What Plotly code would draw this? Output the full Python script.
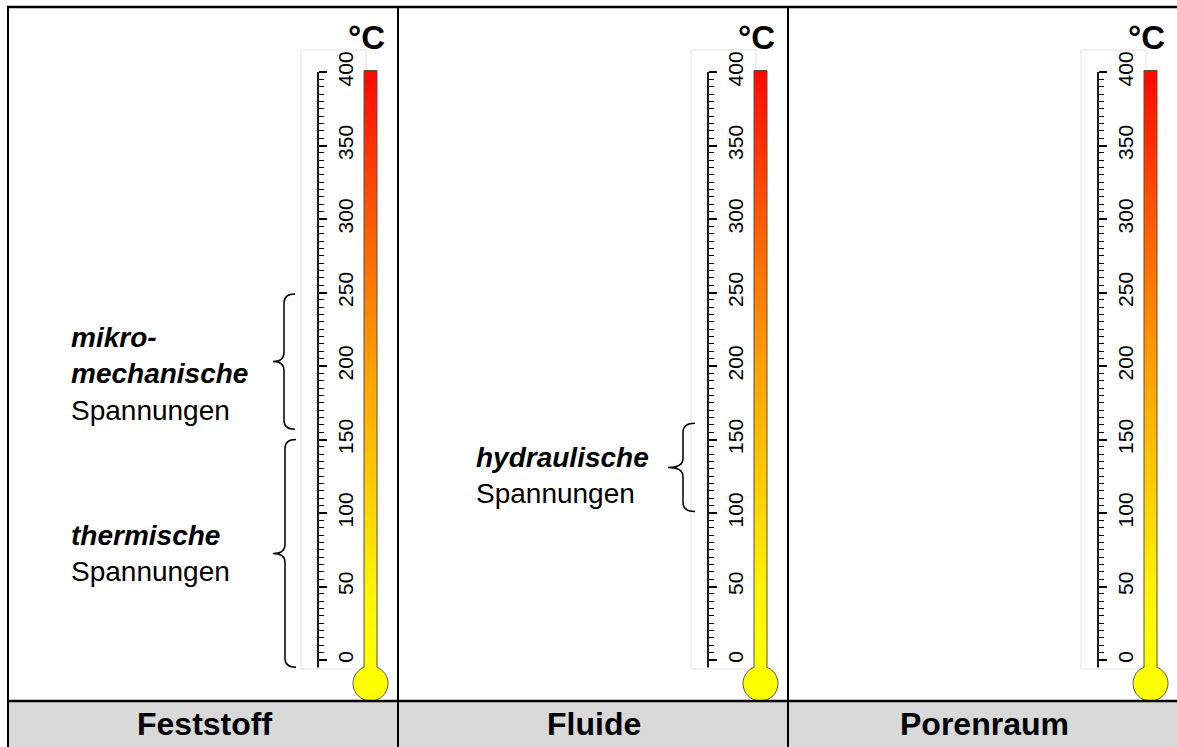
import plotly.graph_objects as go

# ---------------- data ----------------
PANEL_TITLES = ["Feststoff", "Fluide", "Porenraum"]
UNIT = "°C"
SCALE_MIN = 0
SCALE_MAX = 400
MAJOR_TICKS = [0, 50, 100, 150, 200, 250, 300, 350, 400]
TICK_LABELS = ["0", "50", "100", "150", "200", "250", "300", "350", "400"]
MINOR_STEP = 5

# stress ranges (temperature in °C) and their labels
RANGE_PANEL = [0, 0, 1]
RANGE_LOW = [157, -5, 101]
RANGE_HIGH = [249, 150, 161]
RANGE_TITLE = ["mikro-<br>mechanische", "thermische", "hydraulische"]
RANGE_SUB = ["Spannungen", "Spannungen", "Spannungen"]

# ---------------- layout constants (pixels) ----------------
W, H = 1177, 747
PANEL_LEFT = [8, 398, 788]
FRAME_TOP = 7
HEADER_LINE = 701
ZERO_PX = 660           # pixel row of 0 °C
PX_PER_DEG = 1.47
AXIS_OFF = 310          # axis line x offset in panel
TUBE_OFF = (356, 369)   # tube x offsets in panel
BOX_OFF = (293, 358)
BOX_TOP, BOX_BOTTOM = 50, 669
UNIT_OFF = 358
BULB_PX = 683.5
BULB_SIZE = 35
LABEL_X = [69, 69, 474]
LABEL_Y = [374, 553, 475]
BRACE_END = [295, 296, 695]
BRACE_STEM = [284, 285, 683]
BRACE_TIP = [273, 273, 668]
FONT = "Liberation Sans, Arial, sans-serif"

Y_RANGE = [-(H - ZERO_PX) / PX_PER_DEG, ZERO_PX / PX_PER_DEG]


def py(p):
    return 1 - p / H


def deg_of_px(p):
    return (ZERO_PX - p) / PX_PER_DEG


fig = go.Figure()
shapes = []
annotations = []

# table frame
shapes.append(dict(type="rect", xref="paper", yref="paper", x0=PANEL_LEFT[0] / W, x1=1,
                   y0=0, y1=py(HEADER_LINE + 1), fillcolor="#d9d9d9", line=dict(width=0),
                   layer="below"))
shapes.append(dict(type="line", xref="paper", yref="paper", x0=(PANEL_LEFT[0] - 1) / W, x1=1,
                   y0=py(FRAME_TOP), y1=py(FRAME_TOP), line=dict(color="black", width=2.5)))
shapes.append(dict(type="line", xref="paper", yref="paper", x0=(PANEL_LEFT[0] - 1) / W, x1=1,
                   y0=py(HEADER_LINE), y1=py(HEADER_LINE), line=dict(color="black", width=2.5)))
for xl in PANEL_LEFT:
    shapes.append(dict(type="line", xref="paper", yref="paper", x0=xl / W, x1=xl / W,
                       y0=0, y1=py(FRAME_TOP), line=dict(color="black", width=2)))

tube_scale = [[0.0, "#ffff00"], [0.12, "#fff400"], [0.5, "#ffa000"],
              [0.75, "#ff5a00"], [1.0, "#ff0800"]]

axis_names = ["y", "y2", "y3"]
for i, xl in enumerate(PANEL_LEFT):
    yname = axis_names[i]
    ax_x = xl + AXIS_OFF
    t0, t1 = xl + TUBE_OFF[0], xl + TUBE_OFF[1]
    tc = (t0 + t1) / 2
    bottom = deg_of_px(BOX_BOTTOM - 1.5)
    # light scale box
    shapes.append(dict(type="rect", xref="x", yref="paper", x0=xl + BOX_OFF[0], x1=xl + BOX_OFF[1],
                       y0=py(BOX_BOTTOM), y1=py(BOX_TOP), line=dict(color="#e2e2e2", width=1),
                       fillcolor="white", layer="below"))
    # bulb
    fig.add_trace(go.Scatter(x=[tc], y=[deg_of_px(BULB_PX)], yaxis=yname, mode="markers",
                             marker=dict(size=BULB_SIZE, color="#ffff00",
                                         line=dict(color="#5a5a5a", width=1)),
                             hoverinfo="skip", showlegend=False))
    # tube fill with gradient
    top = SCALE_MAX + 1
    low = deg_of_px(BULB_PX - 8)
    fig.add_trace(go.Scatter(x=[t0, t1, t1, t0, t0], y=[low, low, top, top, low], yaxis=yname,
                             mode="lines", fill="toself", line=dict(width=0),
                             fillgradient=dict(type="vertical", colorscale=tube_scale,
                                               start=SCALE_MIN, stop=SCALE_MAX),
                             hoverinfo="skip", showlegend=False))
    # tube outline
    fig.add_trace(go.Scatter(x=[t0, t0, t1, t1], y=[bottom, top, top, bottom], yaxis=yname,
                             mode="lines", line=dict(color="#5e4a44", width=1),
                             hoverinfo="skip", showlegend=False))
    # axis line
    fig.add_trace(go.Scatter(x=[ax_x, ax_x], y=[bottom, SCALE_MAX], yaxis=yname, mode="lines",
                             line=dict(color="black", width=1.8), hoverinfo="skip",
                             showlegend=False))
    # unit label
    annotations.append(dict(x=xl + UNIT_OFF, xref="x", y=py(38), yref="paper", text=f"<b>{UNIT}</b>",
                            showarrow=False, font=dict(family=FONT, size=33, color="black"),
                            xanchor="center", yanchor="middle"))
    # header
    annotations.append(dict(x=xl + 196, xref="x", y=py(724), yref="paper",
                            text=f"<b>{PANEL_TITLES[i]}</b>", showarrow=False,
                            font=dict(family=FONT, size=32, color="black"),
                            xanchor="center", yanchor="middle"))

# braces and range labels
r = 9 / PX_PER_DEG
for k in range(len(RANGE_LOW)):
    hi, lo = RANGE_HIGH[k], RANGE_LOW[k]
    mid = (hi + lo) / 2
    xe, xs, xt = BRACE_END[k], BRACE_STEM[k], BRACE_TIP[k]
    path = (f"M {xe},{hi} Q {xs},{hi} {xs},{hi - r} "
            f"L {xs},{mid + r} Q {xs},{mid} {xt},{mid} "
            f"Q {xs},{mid} {xs},{mid - r} "
            f"L {xs},{lo + r} Q {xs},{lo} {xe},{lo}")
    shapes.append(dict(type="path", xref="x", yref="y", path=path,
                       line=dict(color="black", width=1.5)))
    title_lines = "<br>".join(f"<b><i>{t}</i></b>" for t in RANGE_TITLE[k].split("<br>"))
    annotations.append(dict(x=LABEL_X[k], xref="x", y=py(LABEL_Y[k]), yref="paper",
                            text=f"{title_lines}<br>{RANGE_SUB[k]}", showarrow=False,
                            align="left", xanchor="left", yanchor="middle",
                            font=dict(family=FONT, size=28, color="black")))

minor_vals = [v for v in range(SCALE_MIN, SCALE_MAX + 1, MINOR_STEP) if v not in MAJOR_TICKS]


def scale_axis(i):
    d = dict(range=Y_RANGE, domain=[0, 1], anchor="free",
             position=(PANEL_LEFT[i] + AXIS_OFF) / W, side="right",
             tickmode="array", tickvals=MAJOR_TICKS, ticktext=TICK_LABELS,
             ticks="outside", ticklen=8, tickwidth=1.6, tickcolor="black",
             tickangle=-90, tickfont=dict(family=FONT, size=21, color="black"),
             ticklabelstandoff=1,
             showline=False, showgrid=False, zeroline=False, fixedrange=True,
             minor=dict(tickmode="array", tickvals=minor_vals, ticks="outside",
                        ticklen=4.5, tickwidth=1.2, tickcolor="black", showgrid=False))
    if i > 0:
        d["overlaying"] = "y"
    return d


fig.update_layout(
    width=W, height=H, margin=dict(l=0, r=0, t=0, b=0),
    paper_bgcolor="white", plot_bgcolor="rgba(0,0,0,0)",
    xaxis=dict(range=[0, W], domain=[0, 1], visible=False, fixedrange=True),
    yaxis=scale_axis(0), yaxis2=scale_axis(1), yaxis3=scale_axis(2),
    shapes=shapes, annotations=annotations, showlegend=False,
)

fig.write_html("out.html", config={"displayModeBar": False},
               post_script="document.body.style.margin='0';document.body.style.overflow='hidden';")
